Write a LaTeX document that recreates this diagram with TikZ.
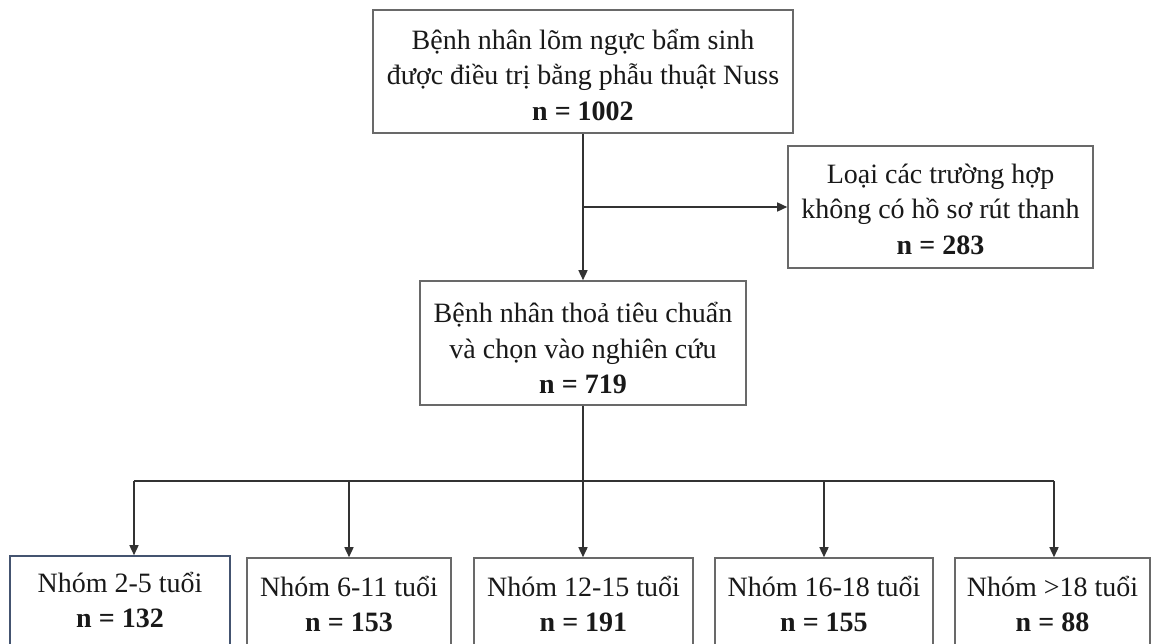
\documentclass[tikz,border=0pt]{standalone}
\usepackage{fontspec}
\setmainfont{Liberation Serif}
\usetikzlibrary{arrows.meta}
\definecolor{boxgray}{RGB}{105,105,105}
\definecolor{boxblue}{RGB}{68,84,112}
\definecolor{linec}{RGB}{50,50,50}
\definecolor{textc}{RGB}{25,25,25}
\begin{document}
\begin{tikzpicture}[x=1pt,y=-1pt,
  box/.style={draw=boxgray, line width=1.6pt, inner sep=0pt},
  lbl/.style={align=center, inner sep=0pt, text=textc,
    font=\fontsize{28}{35.5}\selectfont},
  gbox/.style={box, minimum height=90pt},
  conn/.style={draw=linec, line width=1.5pt},
  arr/.style={conn, -{Triangle[length=10pt,width=9pt]}}]
\useasboundingbox (0,0) rectangle (1151,643);
\clip (0,0) rectangle (1151,643);
\fill[white] (0,0) rectangle (1151,643);
% main boxes
\node[box, minimum width=420pt, minimum height=123pt,
  label={[lbl, yshift=-3pt]center:{Bệnh nhân lõm ngực bẩm sinh\\được điều trị bằng phẫu thuật Nuss\\\textbf{n = 1002}}}]
  (top) at (583,71.5) {};
\node[box, minimum width=305pt, minimum height=122pt,
  label={[lbl, yshift=-2pt]center:{Loại các trường hợp\\không có hồ sơ rút thanh\\\textbf{n = 283}}}]
  (excl) at (940.5,207) {};
\node[box, minimum width=326pt, minimum height=124pt,
  label={[lbl, yshift=-5pt]center:{Bệnh nhân thoả tiêu chuẩn\\và chọn vào nghiên cứu\\\textbf{n = 719}}}]
  (mid) at (583,343) {};
% groups
\node[gbox, draw=boxblue, minimum width=220pt,
  label={[lbl, yshift=1pt]center:{Nhóm 2-5 tuổi\\\textbf{n = 132}}}] (g1) at (120,601) {};
\node[gbox, minimum width=204pt,
  label={[lbl, yshift=-1pt]center:{Nhóm 6-11 tuổi\\\textbf{n = 153}}}] (g2) at (349,603) {};
\node[gbox, minimum width=219pt,
  label={[lbl, yshift=-1pt]center:{Nhóm 12-15 tuổi\\\textbf{n = 191}}}] (g3) at (583.5,603) {};
\node[gbox, minimum width=218pt,
  label={[lbl, yshift=-1pt]center:{Nhóm 16-18 tuổi\\\textbf{n = 155}}}] (g4) at (824,603) {};
\node[gbox, minimum width=195pt,
  label={[lbl, yshift=-1pt]center:{Nhóm >18 tuổi\\\textbf{n = 88}}}] (g5) at (1052.5,603) {};
% connectors
\coordinate (br) at (583,207);
\coordinate (hl) at (134,481);
\coordinate (hr) at (1054,481);
\draw[arr] (top.south) -- (mid.north);
\draw[arr] (br) -- (excl.west);
\draw[conn] (mid.south) -- (mid.south |- hl);
\draw[conn] (hl) -- (hr);
\draw[arr] (hl) -- (hl |- g1.north);
\draw[arr] (g2.north |- hl) -- (g2.north);
\draw[arr] (mid.south |- hl) -- (mid.south |- g3.north);
\draw[arr] (g4.north |- hl) -- (g4.north);
\draw[arr] (hr) -- (hr |- g5.north);
\end{tikzpicture}
\end{document}
